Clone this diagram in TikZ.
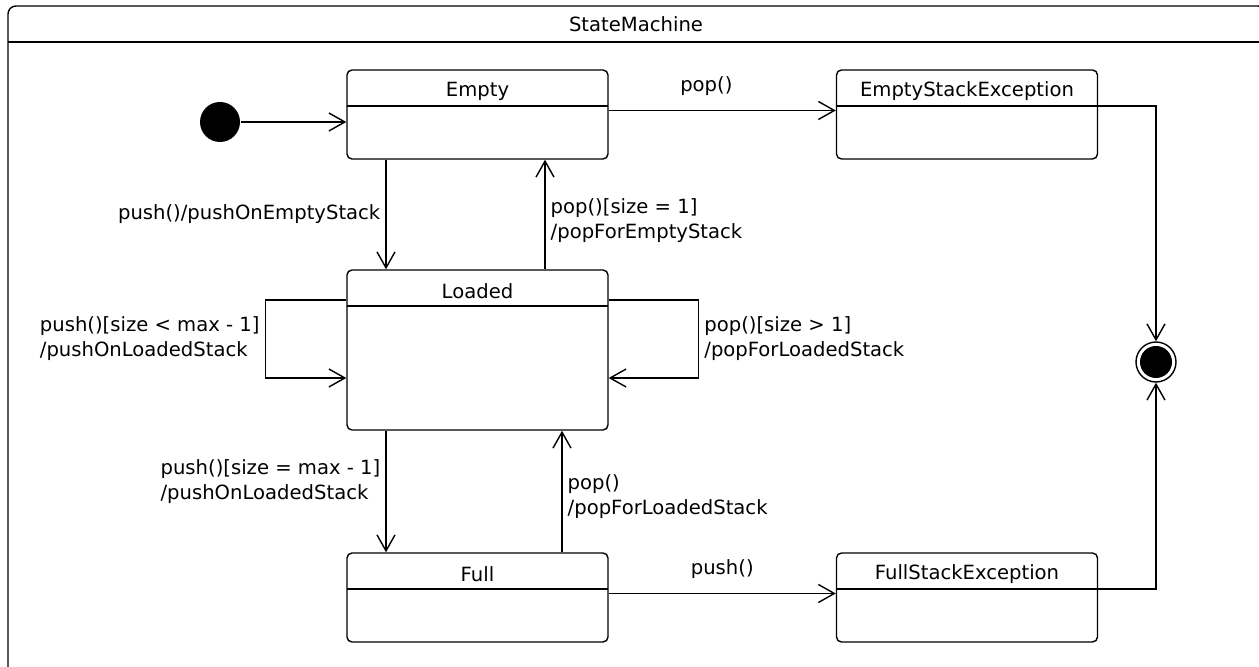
\documentclass[tikz,border=0pt]{standalone}
\usepackage{fontspec}
\setmainfont{DejaVu Sans}
\usetikzlibrary{positioning, arrows.meta}

\begin{document}
\begin{tikzpicture}[
    x=0.5pt, y=-0.5pt,
    font=\fontsize{9.8}{12.5}\selectfont,
    line width=0.7pt,
    >={Straight Barb[length=8pt, width=9pt]},
    state/.style={draw, rounded corners=2.5pt, inner sep=0pt,
      minimum width=130.5pt, minimum height=44.5pt,
      path picture={\draw ([yshift=-18pt]path picture bounding box.north west)
        -- ([yshift=-18pt]path picture bounding box.north east);}},
    statename/.style={anchor=center, yshift=-11pt},
    trigger/.style={align=left, inner sep=2.5pt},
  ]
  \useasboundingbox (0,0) rectangle (1259,667);
  \fill[white] (0,0) rectangle (1259,667);

  \draw[rounded corners=4pt] (1266,676) |- (8,6) |- (1266,676);
  \draw (8,42) -- (1266,42);
  \node (title) at (636,24) {StateMachine};

  \node[circle, fill, minimum size=20pt, inner sep=0pt] (init) at (220,122) {};
  \node[state, label={[statename]north:Empty}] (empty) at (477.5,114.5) {};
  \node[state, label={[statename]north:EmptyStackException}] (ese) at (967,114.5) {};
  \node[state, minimum height=80pt, label={[statename]north:Loaded}] (loaded) at (477.5,350) {};
  \node[state, label={[statename]north:Full}] (full) at (477.5,597.5) {};
  \node[state, label={[statename]north:FullStackException}] (fse) at (967,597.5) {};
  \node[circle, draw, minimum size=20pt, inner sep=0pt] (final) at (1156,362) {};
  \node[circle, fill, minimum size=16pt, inner sep=0pt] (finaldot) at (final) {};

  \draw[->] (init) -- (empty.west |- init);
  \draw[->] ([yshift=2pt]empty.east) -- node[above=4pt, pos=0.43] {pop()} ([yshift=2pt]ese.west);
  \draw[->] ([yshift=2pt]full.east) -- node[above=4pt] {push()} ([yshift=2pt]fse.west);
  \draw[->] ([yshift=4.25pt]ese.east) -| (final);
  \draw[->] ([yshift=4.25pt]fse.east) -| (final);

  \draw[->] ([xshift=-45.75pt]empty.south) -- node[trigger, left] {push()/pushOnEmptyStack} ([xshift=-45.75pt]loaded.north);
  \draw[->] ([xshift=33.75pt]loaded.north) -- node[trigger, right, pos=0.44] {pop()[size = 1]\\/popForEmptyStack} ([xshift=33.75pt]empty.south);
  \draw[->] ([xshift=-45.75pt]loaded.south) -- node[trigger, left, pos=0.42] {push()[size = max - 1]\\/pushOnLoadedStack} ([xshift=-45.75pt]full.north);
  \draw[->] ([xshift=42.25pt]full.north) -- node[trigger, right, pos=0.46] {pop()\\/popForLoadedStack} ([xshift=42.25pt]loaded.south);

  \draw[->] ([yshift=25pt]loaded.west) -- ++(-81,0) |- node[trigger, left, pos=0.25] {push()[size < max - 1]\\/pushOnLoadedStack} ([yshift=-14pt]loaded.west);
  \draw[->] ([yshift=25pt]loaded.east) -- ++(90,0) |- node[trigger, right, pos=0.25] {pop()[size > 1]\\/popForLoadedStack} ([yshift=-14pt]loaded.east);
\end{tikzpicture}
\end{document}
